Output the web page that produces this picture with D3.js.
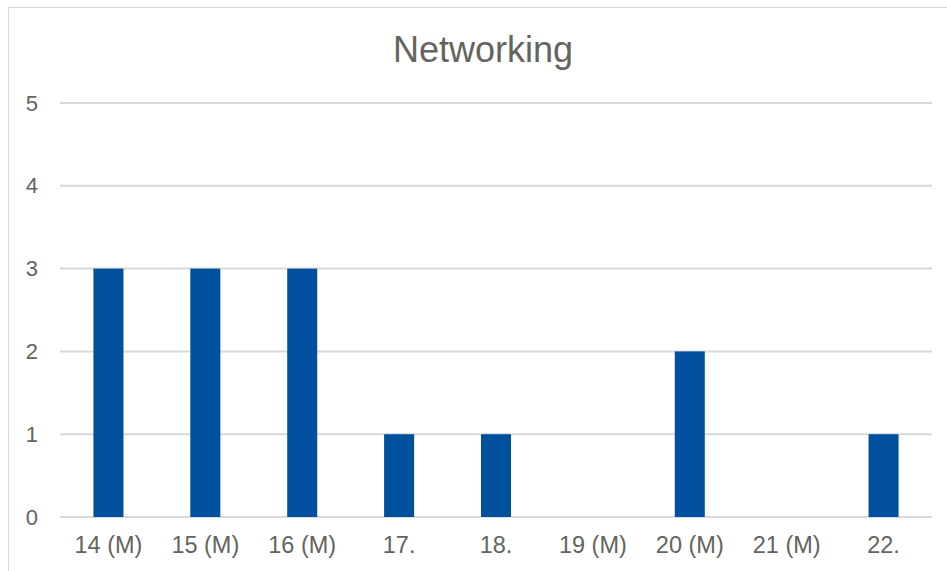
<!DOCTYPE html>
<html>
<head>
<meta charset="utf-8">
<script src="https://cdn.jsdelivr.net/npm/d3@7"></script>
<style>
  html, body { margin: 0; padding: 0; background: #fff; }
  svg { display: block; font-family: "Liberation Sans", Arial, sans-serif; }
</style>
</head>
<body>
<svg id="chart"></svg>
<script>
const categories = ["14 (M)", "15 (M)", "16 (M)", "17.", "18.", "19 (M)", "20 (M)", "21 (M)", "22."];
const values = [3, 3, 3, 1, 1, 0, 2, 0, 1];
const yTicks = [0, 1, 2, 3, 4, 5];
const title = "Networking";

const width = 947, height = 571;
const marginLeft = 60, marginRight = 15, marginTop = 103, marginBottom = 54;
const textColor = "#64645e";

const svg = d3.select("#chart")
  .attr("width", width)
  .attr("height", height);

// chart area border (runs off the bottom/right)
svg.append("rect")
  .attr("x", 8.5)
  .attr("y", 7.5)
  .attr("width", 1200)
  .attr("height", 1200)
  .attr("fill", "#fff")
  .attr("stroke", "#d9d9d9")
  .attr("stroke-width", 1);

const x = d3.scaleBand()
  .domain(categories)
  .range([marginLeft, width - marginRight])
  .paddingInner(0.69)
  .paddingOuter(0.345);

const y = d3.scaleLinear()
  .domain([0, 5])
  .range([height - marginBottom, marginTop]);

// gridlines
svg.append("g")
  .selectAll("line")
  .data(yTicks)
  .join("line")
  .attr("x1", marginLeft)
  .attr("x2", width - marginRight)
  .attr("y1", d => y(d))
  .attr("y2", d => y(d))
  .attr("stroke", "#d9d9d9")
  .attr("stroke-width", 2);

// bars
svg.append("g")
  .attr("fill", "#00509e")
  .selectAll("rect")
  .data(values.map((v, i) => ({ cat: categories[i], v })))
  .join("rect")
  .attr("x", d => x(d.cat))
  .attr("y", d => y(d.v))
  .attr("width", x.bandwidth())
  .attr("height", d => y(0) - y(d.v));

// y axis
svg.append("g")
  .attr("transform", `translate(${marginLeft},0)`)
  .call(d3.axisLeft(y).tickValues(yTicks).tickFormat(d3.format("d")).tickSize(0).tickPadding(22))
  .call(g => g.select(".domain").remove())
  .call(g => g.selectAll("text")
    .attr("fill", textColor)
    .attr("font-size", 22)
    .attr("font-family", "Liberation Sans, Arial, sans-serif"));

// x axis
svg.append("g")
  .attr("transform", `translate(0,${height - marginBottom})`)
  .call(d3.axisBottom(x).tickSize(0).tickPadding(19))
  .call(g => g.select(".domain").remove())
  .call(g => g.selectAll("text")
    .attr("fill", textColor)
    .attr("font-size", 23.5)
    .attr("font-family", "Liberation Sans, Arial, sans-serif"));

// title
svg.append("text")
  .attr("x", 483)
  .attr("y", 62)
  .attr("text-anchor", "middle")
  .attr("fill", textColor)
  .attr("font-size", 36)
  .text(title);
</script>
</body>
</html>
